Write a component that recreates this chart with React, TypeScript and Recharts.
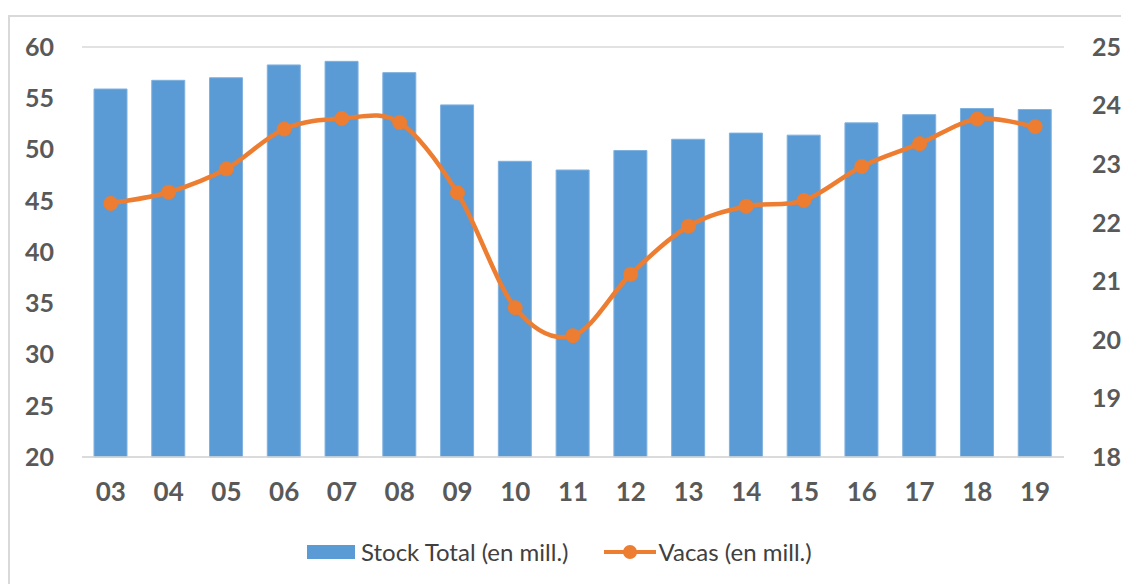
import { ComposedChart, Bar, Line, XAxis, YAxis, CartesianGrid, Legend } from "recharts";

const years = ["03", "04", "05", "06", "07", "08", "09", "10", "11", "12", "13", "14", "15", "16", "17", "18", "19"];
const stockTotal = [55.9, 56.75, 57.0, 58.25, 58.6, 57.5, 54.35, 48.85, 48.0, 49.9, 51.0, 51.6, 51.4, 52.6, 53.4, 54.0, 53.9];
const vacas = [22.33, 22.52, 22.92, 23.6, 23.78, 23.71, 22.51, 20.55, 20.07, 21.12, 21.94, 22.28, 22.38, 22.96, 23.35, 23.77, 23.64];
const leftTicks = [20, 25, 30, 35, 40, 45, 50, 55, 60];
const rightTicks = [18, 19, 20, 21, 22, 23, 24, 25];

const BLUE = "#5B9BD5";
const ORANGE = "#ED7D31";
const FONT = "Lato, 'Open Sans', sans-serif";

const data = years.map((y, i) => ({ year: y, stock: stockTotal[i], vacas: vacas[i] }));

// excel-like smoothed line (catmull-rom style bezier)
function excelCurve(context: any) {
  let pts: number[][] = [];
  return {
    areaStart() {},
    areaEnd() {},
    lineStart() {
      pts = [];
    },
    point(x: number, y: number) {
      pts.push([+x, +y]);
    },
    lineEnd() {
      if (!pts.length) return;
      context.moveTo(pts[0][0], pts[0][1]);
      for (let i = 0; i < pts.length - 1; i++) {
        const p0 = pts[i - 1] || pts[i];
        const p1 = pts[i];
        const p2 = pts[i + 1];
        const p3 = pts[i + 2] || p2;
        context.bezierCurveTo(
          p1[0] + (p2[0] - p0[0]) / 6,
          p1[1] + (p2[1] - p0[1]) / 6,
          p2[0] - (p3[0] - p1[0]) / 6,
          p2[1] - (p3[1] - p1[1]) / 6,
          p2[0],
          p2[1]
        );
      }
    },
  };
}

function LegendContent() {
  return (
    <div style={{ display: "flex", alignItems: "center", fontFamily: FONT, fontSize: 24, color: "#404040", whiteSpace: "nowrap" }}>
      <svg width={48} height={16} style={{ marginRight: 6 }}>
        <rect x={0} y={1} width={48} height={14} fill={BLUE} />
      </svg>
      <span>Stock Total (en mill.)</span>
      <svg width={52} height={16} style={{ marginLeft: 36, marginRight: 2 }}>
        <line x1={0} y1={8} x2={52} y2={8} stroke={ORANGE} strokeWidth={4} />
        <circle cx={26} cy={8} r={7} fill={ORANGE} />
      </svg>
      <span>Vacas (en mill.)</span>
    </div>
  );
}

export default function App() {
  const tick = { fontSize: 25, fontFamily: FONT, fontWeight: 700, fill: "#595959" };
  return (
    <div
      style={{
        marginTop: 7,
        width: 1140,
        height: 600,
        border: "2px solid #d9d9d9",
        boxSizing: "border-box",
      }}
    >
      <ComposedChart
        width={1121}
        height={569}
        data={data}
        margin={{ top: 30, right: 10, left: 10, bottom: 40 }}
        barCategoryGap={0}
      >
        <CartesianGrid vertical={false} stroke="#d9d9d9" strokeWidth={1.5} />
        <XAxis
          dataKey="year"
          axisLine={{ stroke: "#d9d9d9", strokeWidth: 1.5 }}
          tickLine={false}
          tickSize={0}
          tickMargin={26}
          height={60}
          interval={0}
          tick={{ ...tick, fontSize: 26 }}
        />
        <YAxis
          yAxisId="left"
          domain={[20, 60]}
          ticks={leftTicks}
          axisLine={false}
          tickLine={false}
          tickSize={0}
          tickMargin={28}
          width={62}
          tick={tick}
        />
        <YAxis
          yAxisId="right"
          orientation="right"
          domain={[18, 25]}
          ticks={rightTicks}
          axisLine={false}
          tickLine={false}
          tickSize={0}
          tickMargin={28}
          width={57}
          tick={tick}
        />
        <Legend
          content={<LegendContent />}
          wrapperStyle={{ position: "absolute", left: 297, top: 520, width: "auto" }}
        />
        <Bar
          yAxisId="left"
          dataKey="stock"
          name="Stock Total (en mill.)"
          fill={BLUE}
          stroke="#7fb1df"
          strokeWidth={1}
          barSize={33}
          isAnimationActive={false}
        />
        <Line
          yAxisId="right"
          dataKey="vacas"
          name="Vacas (en mill.)"
          type={excelCurve as any}
          stroke={ORANGE}
          strokeWidth={4.5}
          dot={{ r: 7, fill: ORANGE, stroke: ORANGE, strokeWidth: 1 }}
          activeDot={false}
          isAnimationActive={false}
        />
      </ComposedChart>
    </div>
  );
}
